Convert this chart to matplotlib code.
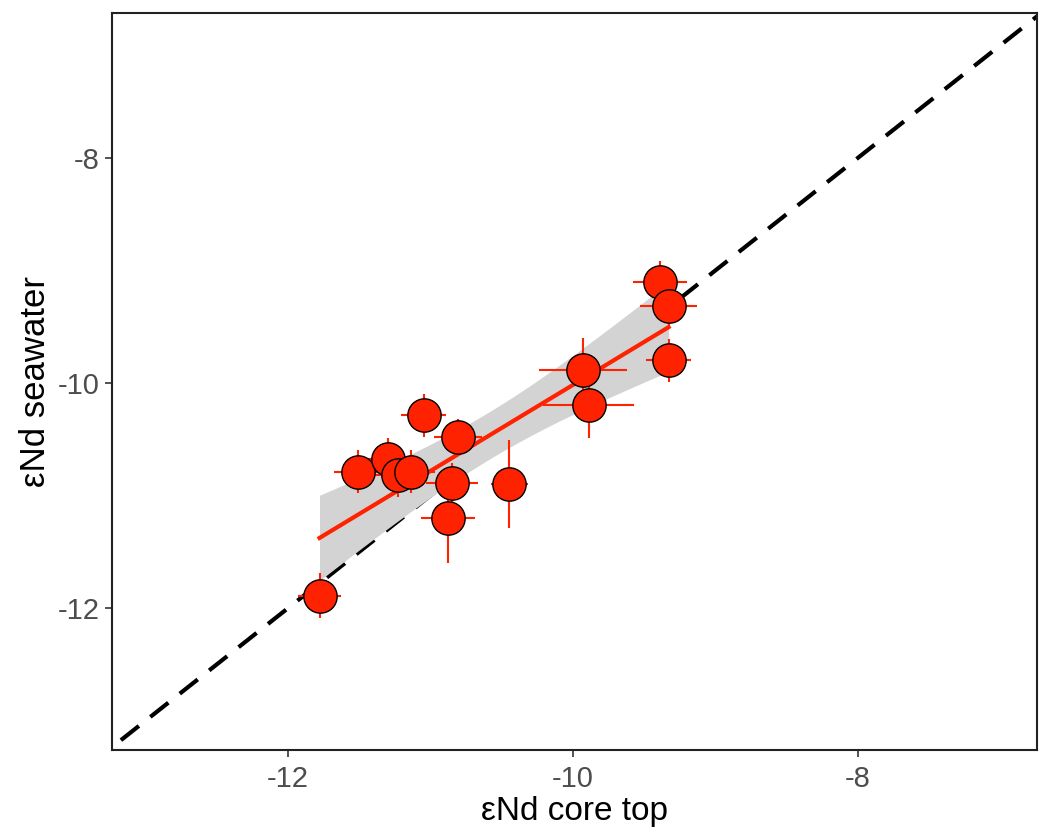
import numpy as np
import matplotlib.pyplot as plt

plt.rcParams['font.family'] = ['Liberation Sans', 'DejaVu Sans']

# core-top vs seawater eNd with 2-sigma style uncertainties
core_top = [-11.78, -11.51, -11.30, -11.23, -11.14, -11.05, -10.81, -10.85,
            -10.88, -10.45, -9.93, -9.89, -9.39, -9.33, -9.33]
seawater = [-11.89, -10.79, -10.68, -10.82, -10.79, -10.29, -10.48, -10.89,
            -11.20, -10.90, -9.89, -10.20, -9.10, -9.32, -9.80]
core_err = [0.15, 0.17, 0.17, 0.17, 0.17, 0.16, 0.17, 0.18,
            0.19, 0.13, 0.31, 0.32, 0.19, 0.20, 0.16]
sw_err = [0.20, 0.19, 0.19, 0.19, 0.19, 0.19, 0.16, 0.18,
          0.40, 0.39, 0.29, 0.29, 0.18, 0.18, 0.19]

RED = '#ff2200'

x = np.array(core_top)
y = np.array(seawater)

# linear fit with 95% confidence band
n = len(x)
slope, intercept = np.polyfit(x, y, 1)
resid = y - (slope * x + intercept)
s = np.sqrt(np.sum(resid ** 2) / (n - 2))
xf = np.linspace(x.min(), x.max(), 200)
yf = slope * xf + intercept
se = s * np.sqrt(1 / n + (xf - x.mean()) ** 2 / np.sum((x - x.mean()) ** 2))
t_crit = 2.160
lo, hi = yf - t_crit * se, yf + t_crit * se

fig = plt.figure(figsize=(10.39, 8.39), dpi=100)
ax = fig.add_axes([0.108, 0.106, 0.890, 0.879])

ax.set_xlim(-13.235, -6.745)
ax.set_ylim(-13.262, -6.711)

ax.plot([-14, -6], [-14, -6], color='black', lw=3, dashes=(5.5, 3.5), zorder=1)
ax.fill_between(xf, lo, hi, color='#d3d3d3', lw=0, zorder=2)
ax.plot(xf, yf, color=RED, lw=3, zorder=3)
ax.errorbar(x, y, xerr=core_err, yerr=sw_err, fmt='none', ecolor=RED,
            elinewidth=1.5, capsize=0, zorder=4)
ax.plot(x, y, 'o', ms=24, mfc=RED, mec='black', mew=1.0, zorder=5)

ax.set_xticks([-12, -10, -8])
ax.set_yticks([-12, -10, -8])
ax.set_xticklabels(['-12', '-10', '-8'])
ax.set_yticklabels(['-12', '-10', '-8'])
ax.tick_params(direction='out', length=5, width=1.2, color='#333333',
               labelcolor='#4d4d4d', labelsize=21)
ax.tick_params(axis='x', pad=6)
ax.tick_params(axis='y', pad=4)
for sp in ax.spines.values():
    sp.set_color('#222222')
    sp.set_linewidth(1.5)

ax.set_xlabel('εNd core top', fontsize=24, labelpad=2)
ax.set_ylabel('εNd seawater', fontsize=25, labelpad=4)

fig.savefig('out.png', dpi=100)
